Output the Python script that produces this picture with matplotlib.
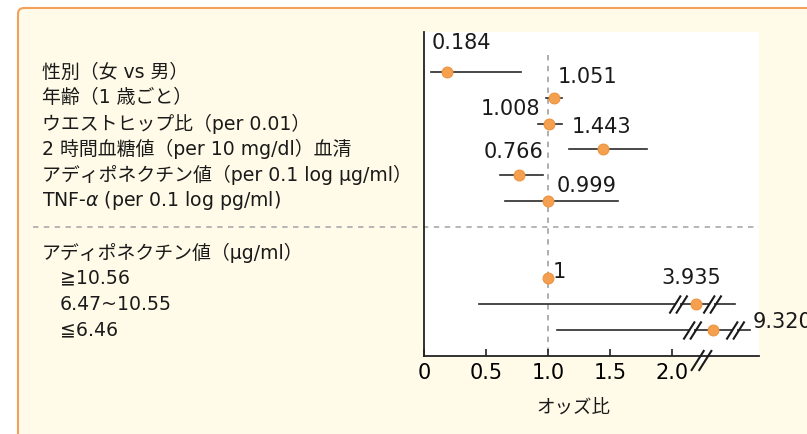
import numpy as np
import matplotlib.pyplot as plt
from matplotlib.patches import FancyBboxPatch
from matplotlib.path import Path
from matplotlib.transforms import IdentityTransform, blended_transform_factory

plt.rcParams['font.family'] = ['DejaVu Sans', 'Noto Sans CJK JP']

# left-hand row labels
labels = ["性別（女 vs 男）", "年齢（1 歳ごと）", "ウエストヒップ比（per 0.01）",
          "2 時間血糖値（per 10 mg/dl）血清",
          "アディポネクチン値（per 0.1 log μg/ml）",
          "TNF-$\\alpha$ (per 0.1 log pg/ml)",
          "アディポネクチン値（μg/ml）", "≧10.56", "6.47~10.55", "≦6.46"]
label_rows = [0, 1, 2, 3, 4, 5, 7, 8, 9, 10]
label_indent = [0, 0, 0, 0, 0, 0, 0, 1, 1, 1]

# odds ratios; the last two sit on the broken part of the axis (past 2.0)
or_text = ["0.184", "1.051", "1.008", "1.443", "0.766", "0.999", "1", "3.935", "9.320"]
or_rows = [0, 1, 2, 3, 4, 5, 8, 9, 10]
or_pos = [0.184, 1.051, 1.008, 1.443, 0.766, 0.999, 1.0, 2.19, 2.33]
ci_lo = [0.06, 0.98, 0.92, 1.17, 0.61, 0.65, np.nan, 0.44, 1.07]
ci_hi = [0.78, 1.11, 1.11, 1.80, 0.96, 1.56, np.nan, 2.51, 2.63]

# where the "//" break marks go on the CI lines
break_rows = [9, 9, 10, 10]
break_pos = [2.05, 2.32, 2.16, 2.51]
axis_break = 2.23

xticks = [0, 0.5, 1.0, 1.5, 2.0]
xticklabels = ["0", "0.5", "1.0", "1.5", "2.0"]

# label offsets (pixels) from each point, and alignment
lab_dx = [-15, 3, -9, -31, 24, 9, 5, -34, 40]
lab_dy = [29, 21, 15, 22, 23, 15, 6, 26, 8]
lab_ha = ["left", "left", "right", "left", "right", "left", "left", "left", "left"]

W, H = 807, 434
fig = plt.figure(figsize=(W / 100, H / 100), dpi=100, facecolor="white")

cream = "#FFFBE8"
box = FancyBboxPatch((18, -30), 840, H - 8 + 30, boxstyle="round,pad=0,rounding_size=6",
                     transform=IdentityTransform(), facecolor=cream,
                     edgecolor="#F5A05A", linewidth=1.5, zorder=-1)
fig.add_artist(box)

ax = fig.add_axes([424 / W, 1 - 356 / H, 335 / W, 324 / H])
ax.set_facecolor("white")
ax.set_xlim(0, 2.70)
ax.set_ylim(11.01, -1.55)
for s in ["top", "right"]:
    ax.spines[s].set_visible(False)
for s in ["left", "bottom"]:
    ax.spines[s].set_linewidth(1.3)
    ax.spines[s].set_color("#222222")
ax.set_yticks([])
ax.set_xticks(xticks)
ax.set_xticklabels(xticklabels)
ax.tick_params(axis="x", direction="in", length=5, width=1.2, labelsize=15, pad=5,
               color="#222222")

trans = blended_transform_factory(fig.transFigure, ax.transData)

# reference line at OR = 1 and the separator between the two blocks
ax.plot([1, 1], [-0.66, 11.01], color="#A8A8A8", lw=1.3, ls=(0, (3, 3)), zorder=1)
ax.plot([33 / W, 759 / W], [6.0, 6.0], transform=trans, color="#B0B0B0", lw=1.3,
        ls=(0, (3, 3)), clip_on=False, zorder=1)

# left labels
for lab, r, ind in zip(labels, label_rows, label_indent):
    x = (42 + 18 * ind) / W
    ax.text(x, r, lab, transform=trans, fontsize=13.6, va="center", ha="left",
            color="#1a1a1a", clip_on=False)

# CI lines and points
for lo, hi, r in zip(ci_lo, ci_hi, or_rows):
    if np.isnan(lo):
        continue
    ax.plot([lo, hi], [r, r], color="#2a2a2a", lw=1.2, zorder=2)

slash = Path([(-7.5, -7.5), (2.0, 7.5), (-2.0, -7.5), (7.5, 7.5)],
             [Path.MOVETO, Path.LINETO, Path.MOVETO, Path.LINETO])
ax.plot(break_pos, break_rows, ls="none", marker="_", ms=3.5, mew=3, color="white", zorder=3)
ax.plot(break_pos, break_rows, ls="none", marker=slash, ms=13, mew=1.5,
        mfc="none", mec="#1a1a1a", zorder=3)
ax.plot([axis_break], [11.15], ls="none", marker="_", ms=4.5, mew=4, color="white",
        zorder=5, clip_on=False)
ax.plot([axis_break], [11.15], ls="none", marker=slash, ms=15, mew=1.5,
        mfc="none", mec="#1a1a1a", zorder=5, clip_on=False)

ax.plot(or_pos, or_rows, ls="none", marker="o", ms=7.8, mfc="#F4A04F", mec="#EE9440",
        mew=0.8, zorder=4)

for t, x, r, dx, dy, ha in zip(or_text, or_pos, or_rows, lab_dx, lab_dy, lab_ha):
    ax.annotate(t, (x, r), xytext=(dx, dy), textcoords="offset pixels", ha=ha,
                va="center", fontsize=15, color="#1a1a1a", annotation_clip=False)

ax.text(0.445, -0.16, "オッズ比", transform=ax.transAxes, ha="center", va="center",
        fontsize=13.3, color="#1a1a1a")

fig.savefig("out.png", dpi=100, facecolor="white")
